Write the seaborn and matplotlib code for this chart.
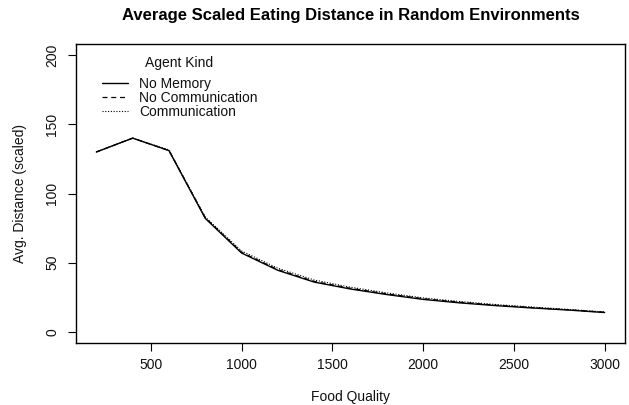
import matplotlib
matplotlib.use("Agg")
import matplotlib.pyplot as plt
import seaborn as sns
import pandas as pd

food_quality = [200, 400, 600, 800, 1000, 1200, 1400, 1600, 1800, 2000,
                2200, 2400, 2600, 2800, 3000]
no_memory = [130, 140, 131, 82, 57, 44.5, 36, 31, 27, 23.5, 21, 19, 17.3, 15.8, 14]
no_communication = [130, 140, 131, 82.5, 57.5, 45, 36.5, 31.5, 27.5, 24, 21.5, 19.3, 17.6, 16, 14.2]
communication = [130, 140, 131.5, 83, 58.5, 46, 37.5, 32.3, 28.2, 24.6, 22, 19.8, 18, 16.3, 14.4]
series_names = ["No Memory", "No Communication", "Communication"]
x_ticks = [500, 1000, 1500, 2000, 2500, 3000]
y_ticks = [0, 50, 100, 150, 200]

df = pd.concat([
    pd.DataFrame({"Food Quality": food_quality, "value": no_memory, "kind": series_names[0]}),
    pd.DataFrame({"Food Quality": food_quality, "value": no_communication, "kind": series_names[1]}),
    pd.DataFrame({"Food Quality": food_quality, "value": communication, "kind": series_names[2]}),
])

sns.set_style("white")
plt.rcParams['font.family'] = ['Liberation Sans', 'DejaVu Sans']
plt.rcParams['xtick.bottom'] = True
plt.rcParams['ytick.left'] = True

fig = plt.figure(figsize=(6.29, 4.05), dpi=100)
ax = fig.add_axes([76/629, 1-343/405, (625-76)/629, (343-44)/405])

styles = {series_names[0]: "-", series_names[1]: (0, (4, 3)), series_names[2]: (0, (1, 1.5))}
widths = {series_names[0]: 1.0, series_names[1]: 0.9, series_names[2]: 0.8}
for name in series_names[::-1]:
    sub = df[df["kind"] == name]
    sns.lineplot(data=sub, x="Food Quality", y="value", ax=ax, color="black",
                 linewidth=widths[name], label=name, legend=False,
                 linestyle=styles[name])

ax.set_xlim(88, 3112)
ax.set_ylim(-8, 208)
ax.set_xticks(x_ticks)
ax.set_yticks(y_ticks)
ax.tick_params(axis="both", which="major", bottom=True, left=True, direction="out",
               length=6, width=0.8, labelsize=10, color="black", labelcolor="#111111")
ax.tick_params(axis="x", pad=5)
ax.tick_params(axis="y", pad=6)
for lab in ax.get_yticklabels():
    lab.set_rotation(90)
    lab.set_va("center")
for s in ax.spines.values():
    s.set_visible(True)
    s.set_color("black")
    s.set_linewidth(1.0)

ax.set_xlabel("Food Quality", fontsize=10, labelpad=13, color="#111111")
ax.set_ylabel("Avg. Distance (scaled)", fontsize=10, labelpad=13, color="#111111")
ax.set_title("Average Scaled Eating Distance in Random Environments",
             fontsize=12, fontweight="bold", pad=17, color="black")

handles, labels = ax.get_legend_handles_labels()
order = [labels.index(n) for n in series_names]
leg = ax.legend([handles[i] for i in order], [labels[i] for i in order],
                title="Agent Kind", loc="upper left", bbox_to_anchor=(0.024, 1.002),
                frameon=False, fontsize=10, title_fontsize=10,
                handlelength=1.87, handletextpad=0.8, labelspacing=0.0,
                borderpad=0.4)
leg._legend_box.sep = 5
for t in leg.get_texts():
    t.set_color("#111111")
leg.get_title().set_color("#111111")

fig.savefig("out.png", dpi=100, facecolor="white")
